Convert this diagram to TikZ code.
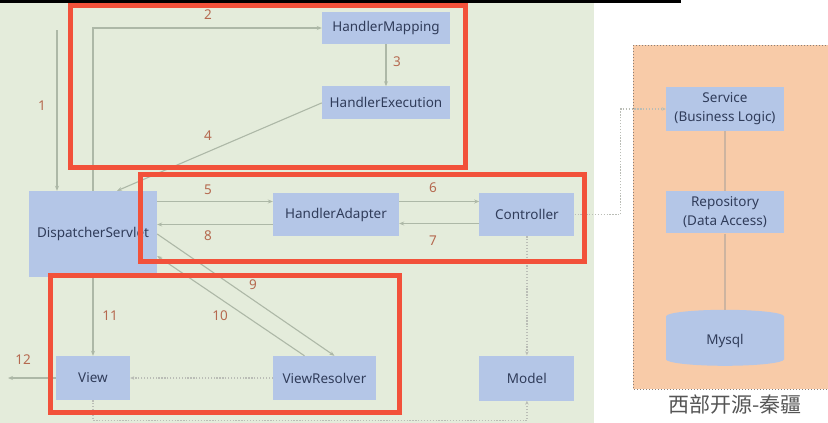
\documentclass[tikz,border=0pt]{standalone}
\usepackage{fontspec}
\setmainfont{Noto Sans}
\newfontfamily\cjkfont{Noto Sans CJK SC}
\usetikzlibrary{positioning, shapes.geometric, arrows.meta}
\definecolor{mvcbg}{HTML}{E4ECDB}
\definecolor{mvcblue}{HTML}{B4C6E7}
\definecolor{mvctext}{HTML}{303C5A}
\definecolor{mvcnum}{HTML}{B5694F}
\definecolor{mvcline}{HTML}{ADB8A7}
\definecolor{mvcdot}{HTML}{BABDB6}
\definecolor{mvcred}{HTML}{F2513A}
\definecolor{mvcorange}{HTML}{F8CBA8}
\definecolor{mvcedge}{HTML}{8C7F76}
\definecolor{mvctan}{HTML}{CDB4A0}
\definecolor{mvcmark}{HTML}{555555}

\begin{document}
\begin{tikzpicture}[x=1pt, y=-1pt,
    b/.style={fill=mvcblue, text=mvctext, font=\fontsize{13.5}{19}\selectfont, inner sep=0pt, align=center},
    num/.style={text=mvcnum, font=\fontsize{13.5}{16}\selectfont, inner sep=0pt},
    ln/.style={draw=mvcline, line width=1.1pt, -{Stealth[length=5pt,width=4pt]}},
    dl/.style={draw=mvcdot, line width=1.3pt, dash pattern=on 1.3pt off 1.6pt},
    dla/.style={dl, -{Stealth[length=4pt,width=3.5pt]}},
    hl/.style={draw=mvcred, line width=5pt}]
  \useasboundingbox (0,0) rectangle (828,423);
  % background
  \fill[white] (0,0) rectangle (828,423);
  \fill[mvcbg] (0,0) rectangle (594,423);
  \fill[black] (0,0) rectangle (681,2.5);
  \draw[mvcedge, dotted, line width=1pt, fill=mvcorange] (633,45) rectangle (840,389);

  % boxes
  \node[b, minimum width=128pt, minimum height=32pt] (hm) at (386,28) {HandlerMapping};
  \node[b, minimum width=128pt, minimum height=33pt, below=42pt of hm] (he) {HandlerExecution};
  \node[b, minimum width=128pt, minimum height=86pt] (ds) at (93,234) {DispatcherServlet};
  \node[b, minimum width=126pt, minimum height=43pt] (ha) at (336,214.5) {HandlerAdapter};
  \node[b, minimum width=95pt, minimum height=43pt, right=80pt of ha] (ctl) {Controller};
  \node[b, minimum width=74pt, minimum height=44pt] (view) at (93,378) {View};
  \node[b, minimum width=103pt, minimum height=44pt] (vr) at (324.5,378) {ViewResolver};
  \node[b, minimum width=95pt, minimum height=45pt] (model) at (ctl |- vr) {Model};
  \node[b, minimum width=118pt, minimum height=44pt] (svc) at (725,109) {Service\\(Business Logic)};
  \node[b, minimum width=118pt, minimum height=42pt, below=60pt of svc] (repo) {Repository\\(Data Access)};
  \node[b, cylinder, shape border rotate=90, aspect=0.35, minimum width=118pt, minimum height=56pt, below=76pt of repo] (db) {Mysql};

  % request flow
  \coordinate (usr) at (57,30);
  \draw[ln] (usr) -- (usr |- ds.north);
  \draw[ln] (ds.north) |- (hm.west);
  \draw[ln] (hm) -- (he);
  \draw[ln] (he.west) -- ([xshift=24pt]ds.north);
  \draw[ln] ([yshift=13pt]ds.east |- ha.west) -- ([yshift=13pt]ha.west);
  \draw[ln] ([yshift=-10pt]ha.west) -- ([yshift=-10pt]ds.east |- ha.west);
  \draw[ln] ([yshift=13pt]ha.east) -- ([yshift=13pt]ctl.west);
  \draw[ln] ([yshift=-9pt]ctl.west) -- ([yshift=-9pt]ha.east);
  \draw[ln] (ds.east) -- ([xshift=10pt]vr.north);
  \draw[ln] ([xshift=-20pt]vr.north) -- ([yshift=-22pt]ds.east);
  \draw[ln] (ds) -- (view);
  \coordinate (out) at (8,378);
  \draw[ln] (view.west) -- (out);
  \draw[dla] (vr.west) -- (view.east);
  \draw[dla] (ctl.south) -- (model.north);
  \draw[dla] (view.south) -- ++(0,20) -| (model.south);
  \draw[dla] (ctl.east) -- ++(46,0) |- (svc.west);
  \draw[mvctan, line width=1.2pt] (svc) -- (repo);
  \draw[mvctan, line width=1.2pt] (repo) -- (db);

  % step numbers
  \node[num] (n1) at (42,106) {1};
  \node[num] (n2) at (208,15) {2};
  \node[num] (n3) at (397,62) {3};
  \node[num] (n4) at (208,136) {4};
  \node[num] (n5) at (208,190) {5};
  \node[num] (n6) at (433,188) {6};
  \node[num] (n7) at (433,241) {7};
  \node[num] (n8) at (208,236) {8};
  \node[num] (n9) at (253,285) {9};
  \node[num] (n10) at (220,316) {10};
  \node[num] (n11) at (110,316) {11};
  \node[num] (n12) at (23,360) {12};

  \node[text=mvcmark, font=\cjkfont\fontsize{21}{21}\selectfont, inner sep=0pt] (wm) at (735,405) {西部开源-秦疆};

  % highlights
  \draw[hl] (70.5,5.5) rectangle (465.5,167.5);
  \draw[hl] (140,174.5) rectangle (584,261);
  \draw[hl] (50.5,275) rectangle (399,412);
\end{tikzpicture}
\end{document}
